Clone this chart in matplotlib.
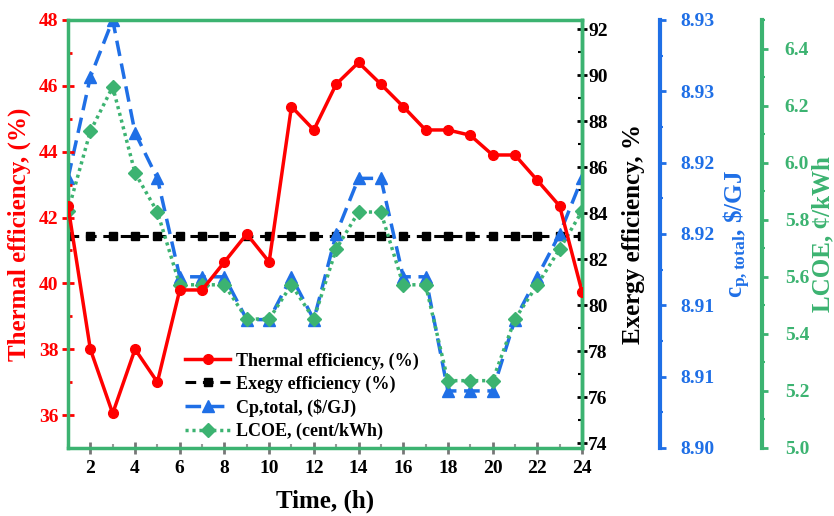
import matplotlib
matplotlib.use("Agg")
import matplotlib.pyplot as plt
from matplotlib.ticker import MultipleLocator, FixedLocator, FormatStrFormatter

# ---- data ----
hours = [1, 2, 3, 4, 5, 6, 7, 8, 9, 10, 11, 12, 13, 14, 15, 16, 17, 18, 19, 20, 21, 22, 23, 24]
thermal_eff = [42.35, 38.0, 36.05, 38.0, 37.0, 39.8, 39.8, 40.65, 41.5, 40.65, 45.37, 44.66,
               46.05, 46.71, 46.05, 45.37, 44.66, 44.66, 44.5, 43.9, 43.9, 43.13, 42.35, 39.75]
exergy_eff = [83.0, 83.0, 83.0, 83.0, 83.0, 83.0, 83.0, 83.0, 83.0, 83.0, 83.0, 83.0,
              83.0, 83.0, 83.0, 83.0, 83.0, 83.0, 83.0, 83.0, 83.0, 83.0, 83.0, 83.0]
cp_total = [8.9189, 8.9260, 8.9300, 8.9221, 8.9189, 8.9120, 8.9120, 8.9120, 8.9090, 8.9090,
            8.9120, 8.9090, 8.9150, 8.9189, 8.9189, 8.9120, 8.9120, 8.9040, 8.9040, 8.9040,
            8.9090, 8.9120, 8.9150, 8.9189]
lcoe = [5.83, 6.11, 6.266, 5.964, 5.827, 5.572, 5.572, 5.572, 5.452, 5.452, 5.572, 5.452,
        5.697, 5.827, 5.827, 5.572, 5.572, 5.236, 5.236, 5.236, 5.452, 5.572, 5.697, 5.83]

x_ticks = [2, 4, 6, 8, 10, 12, 14, 16, 18, 20, 22, 24]
cp_ticks = [8.900, 8.905, 8.910, 8.915, 8.920, 8.925, 8.930]
cp_tick_labels = ["8.90", "8.91", "8.91", "8.92", "8.92", "8.93", "8.93"]

labels = ["Thermal efficiency, (%)", "Exegy efficiency (%)", "Cp,total, ($/GJ)", "LCOE, (cent/kWh)"]

# ---- style ----
RED = "#FF0000"
BLUE = "#1F6FE6"
GREEN = "#3CB371"
plt.rcParams["font.family"] = ["Liberation Serif", "DejaVu Serif"]
plt.rcParams["font.weight"] = "bold"
plt.rcParams["mathtext.fontset"] = "custom"
plt.rcParams["mathtext.rm"] = "Liberation Serif:bold"
plt.rcParams["mathtext.it"] = "Liberation Serif:bold"
plt.rcParams["mathtext.bf"] = "Liberation Serif:bold"

fig = plt.figure(figsize=(8.34, 5.16), dpi=100)
L, R, B, T = 68 / 834, 582 / 834, (516 - 448) / 516, (516 - 20) / 516
ax = fig.add_axes([L, B, R - L, T - B])
ax2 = ax.twinx()
ax3 = ax.twinx()
ax4 = ax.twinx()

# host axis (thermal)
l1, = ax.plot(hours, thermal_eff, color=RED, lw=2.5, marker="o", ms=7, zorder=5,
              label=labels[0])
ax.set_xlim(1, 24)
ax.set_ylim(35, 48)
ax.yaxis.set_major_locator(MultipleLocator(2))
ax.yaxis.set_minor_locator(MultipleLocator(1))
ax.xaxis.set_major_locator(FixedLocator(x_ticks))
ax.xaxis.set_minor_locator(MultipleLocator(1))
ax.tick_params(axis="y", which="major", colors=RED, direction="inout", length=8, width=2,
               labelsize=14, pad=3)
ax.tick_params(axis="y", which="minor", colors=RED, direction="in", length=3, width=2)
ax.tick_params(axis="x", which="major", colors="#777777", labelcolor="black", direction="inout",
               length=9, width=2, labelsize=14, pad=4)
ax.tick_params(axis="x", which="minor", colors="#999999", direction="in", length=3, width=1.5)
for lab in ax.get_xticklabels() + ax.get_yticklabels():
    lab.set_fontweight("bold")
ax.set_ylabel("Thermal efficiency, (%)", color=RED, fontsize=18, fontweight="bold")
ax.yaxis.set_label_coords(-0.072, 0.5)
ax.set_xlabel("Time, (h)", fontsize=18, fontweight="bold")
ax.xaxis.set_label_coords(0.5, -0.097)
for s in ax.spines.values():
    s.set_color(GREEN)
    s.set_linewidth(2.5)

# exergy
l2, = ax2.plot(hours, exergy_eff, color="black", lw=2.2, ls=(0, (3.5, 2.2)), marker="s", ms=6,
               label=labels[1])
ax2.set_ylim(73.8, 92.4)
ax2.yaxis.set_major_locator(MultipleLocator(2))
ax2.yaxis.set_minor_locator(MultipleLocator(1))
ax2.tick_params(axis="y", which="major", colors="black", direction="inout", length=7, width=2,
                labelsize=14, pad=1)
ax2.tick_params(axis="y", which="minor", colors="black", direction="in", length=3, width=1.5)
for lab in ax2.get_yticklabels():
    lab.set_fontweight("bold")
ax2.set_ylabel("Exergy efficiency, %", color="black", fontsize=18, fontweight="bold")
ax2.yaxis.set_label_coords(1.077, 0.5)
for name, s in ax2.spines.items():
    s.set_visible(name == "right")
    s.set_color(GREEN)
    s.set_linewidth(2.5)

# Cp
l3, = ax3.plot(hours, cp_total, color=BLUE, lw=2.5, ls=(0, (4.5, 2.2)), marker="^", ms=9,
               label=labels[2])
ax3.set_ylim(8.900, 8.930)
ax3.spines["right"].set_position(("axes", 1.152))
ax3.yaxis.set_major_locator(FixedLocator(cp_ticks))
ax3.set_yticklabels(cp_tick_labels)
ax3.yaxis.set_minor_locator(FixedLocator([8.9025, 8.9075, 8.9125, 8.9175, 8.9225, 8.9275]))
ax3.tick_params(axis="y", which="major", colors=BLUE, direction="out", length=4.5, width=2,
                labelsize=14, pad=10)
ax3.tick_params(axis="y", which="minor", colors=BLUE, direction="out", length=2.5, width=1.5)
for lab in ax3.get_yticklabels():
    lab.set_fontweight("bold")
ax3.set_ylabel(r"$c_{p,total}$, \$/GJ", color=BLUE, fontsize=18, fontweight="bold")
ax3.yaxis.set_label_coords(1.272, 0.5)
for name, s in ax3.spines.items():
    s.set_visible(name == "right")
    s.set_color(BLUE)
    s.set_linewidth(3)

# LCOE
l4, = ax4.plot(hours, lcoe, color=GREEN, lw=2.5, ls=(0, (0.9, 1.1)), marker="D", ms=7,
               label=labels[3])
ax4.set_ylim(5.0, 6.5)
ax4.spines["right"].set_position(("axes", 1.35))
ax4.yaxis.set_major_locator(MultipleLocator(0.2))
ax4.yaxis.set_minor_locator(MultipleLocator(0.1))
ax4.yaxis.set_major_formatter(FormatStrFormatter("%.1f"))
ax4.tick_params(axis="y", which="major", colors=GREEN, direction="out", length=4.5, width=2,
                labelsize=14, pad=12)
ax4.tick_params(axis="y", which="minor", colors=GREEN, direction="out", length=2.5, width=1.5)
for lab in ax4.get_yticklabels():
    lab.set_fontweight("bold")
ax4.set_ylabel("LCOE, ¢/kWh", color=GREEN, fontsize=18, fontweight="bold")
ax4.yaxis.set_label_coords(1.446, 0.5)
for name, s in ax4.spines.items():
    s.set_visible(name == "right")
    s.set_color(GREEN)
    s.set_linewidth(3)

# z-order: thermal on top
ax.set_zorder(ax4.get_zorder() + 3)
ax.patch.set_visible(False)

leg = ax.legend(handles=[l1, l2, l3, l4], loc="lower left", bbox_to_anchor=(0.221, 0.01),
                frameon=False, handlelength=2.5, handletextpad=0.3,
                labelspacing=0.33, borderaxespad=0.1, borderpad=0.1,
                prop={"weight": "bold", "size": 13})

fig.savefig("out.png", dpi=100)
